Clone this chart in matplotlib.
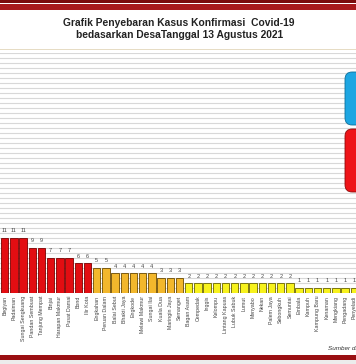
import matplotlib
matplotlib.use("Agg")
import matplotlib.pyplot as plt
from matplotlib.patches import Rectangle, FancyBboxPatch

categories = ["Begiyan", "Padaiman", "Sungai Sengkuang", "Pandan Sembuat", "Tanjung Mempat",
              "Binjai", "Harapan Makmur", "Pusat Damai", "Bond", "Ilir Kota",
              "Engkahan", "Peruan Dalam", "Balai Sebut", "Bhakti Jaya", "Engkode",
              "Melawi Makmur", "Sungai Ilai", "Kuala Dua", "Maringin Jaya", "Semanget",
              "Bagan Asam", "Cempedak", "Inggis", "Kelompu", "Lintang Kapuas",
              "Lubuk Sabuk", "Lumut", "Menyabo", "Nekan", "Palem Jaya",
              "Sebongkuh", "Semuntai", "Embala", "Kampuh", "Kampung Baru",
              "Kenaman", "Mengkiang", "Pengadang", "Penyeladi"]
values = [11, 11, 11, 9, 9, 7, 7, 7, 6, 6, 5, 5, 4, 4, 4, 4, 4, 3, 3, 3,
          2, 2, 2, 2, 2, 2, 2, 2, 2, 2, 2, 2, 1, 1, 1, 1, 1, 1, 1]
title_lines = ["Grafik Penyebaran Kasus Konfirmasi  Covid-19",
               "bedasarkan DesaTanggal 13 Agustus 2021"]

W, H = 356, 364
fig = plt.figure(figsize=(W / 100, H / 100), dpi=100)
fig.patch.set_facecolor("white")

def fy(py):
    return 1 - py / H

# header bands
fig.add_artist(Rectangle((0, fy(3)), 1, 3 / H, transform=fig.transFigure, color="#7a0c0c", lw=0))
fig.add_artist(Rectangle((0, fy(9.5)), 1, 5.5 / H, transform=fig.transFigure, color="#a8191b", lw=0))
# beige separator
fig.add_artist(Rectangle((0, fy(50)), 1, 1.2 / H, transform=fig.transFigure, color="#e6dcc4", lw=0))
# footer bands
fig.add_artist(Rectangle((0, fy(360)), 1, 5 / H, transform=fig.transFigure, color="#9a0f12", lw=0))
fig.add_artist(Rectangle((0, 0), 1, 4 / H, transform=fig.transFigure, color="#ececec", lw=0))

fig.text(0.503, fy(23), title_lines[0], ha="center", va="center", fontsize=7.4,
         fontweight="bold", family="Liberation Sans", color="#222222")
fig.text(0.503, fy(35), title_lines[1], ha="center", va="center", fontsize=7.4,
         fontweight="bold", family="Liberation Sans", color="#222222")

ax = fig.add_axes([0, 71 / H, 1, 240 / H])
ax.set_facecolor("none")
x = list(range(len(categories)))

def bar_color(v):
    if v >= 6:
        return "#e30d12", "#7a0000"
    if v >= 3:
        return "#f2b72c", "#6b4a00"
    return "#f7f21c", "#6a6400"

fc = [bar_color(v)[0] for v in values]
ec = [bar_color(v)[1] for v in values]
ax.bar(x, values, width=0.8, color=fc, edgecolor=ec, linewidth=0.6, zorder=3)
for i, v in zip(x, values):
    ax.text(i, v + 0.9, str(v), ha="center", va="bottom", fontsize=4,
            family="Liberation Sans", color="#444444", zorder=4)

ax.set_xlim(-0.51, 38.18)
ax.set_ylim(0, 48)
ax.set_yticks(range(1, 49))
ax.yaxis.grid(True, color="#d8d8d8", lw=0.8, zorder=0)
ax.set_axisbelow(True)
ax.set_xticks(x)
ax.set_xticklabels(categories, rotation=90, fontsize=3.8, family="Liberation Sans", color="#444444")
ax.tick_params(axis="x", length=0, pad=2)
ax.tick_params(axis="y", length=0, labelleft=False)
for s in ax.spines.values():
    s.set_visible(False)

# right-side info boxes (cut off)
fig.add_artist(FancyBboxPatch((345 / W, fy(125)), 30 / W, 53 / H, transform=fig.transFigure,
                              boxstyle="round,pad=0,rounding_size=0.02", fc="#1ea6e2", ec="#0c6e9a", lw=0.6))
fig.add_artist(FancyBboxPatch((345 / W, fy(192)), 30 / W, 63 / H, transform=fig.transFigure,
                              boxstyle="round,pad=0,rounding_size=0.02", fc="#ee1418", ec="#8c0a0a", lw=0.6))

fig.text(328 / W, fy(349), "Sumber data : Dinkes", ha="left", va="center", fontsize=4.6,
         style="italic", family="Liberation Sans", color="#333333")

fig.savefig("out.png", dpi=100)
